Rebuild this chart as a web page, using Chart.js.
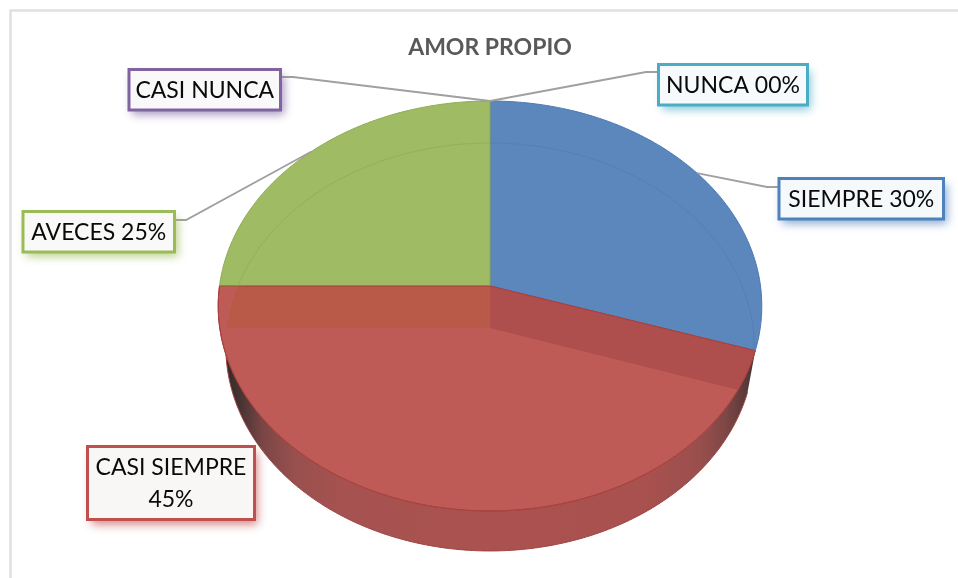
<!DOCTYPE html>
<html>
<head>
<meta charset="utf-8">
<style>
html,body{margin:0;padding:0;background:#fff;}
canvas{display:block;}
</style>
<script src="https://cdn.jsdelivr.net/npm/chart.js@4"></script>
</head>
<body>
<canvas id="c" width="958" height="578"></canvas>
<script>
const chartTitle = "AMOR PROPIO";
const categories = ["SIEMPRE", "CASI SIEMPRE", "AVECES", "CASI NUNCA", "NUNCA"];
const values = [30, 45, 25, 0, 0];
const calloutLines = [["SIEMPRE 30%"], ["CASI SIEMPRE", "45%"], ["AVECES 25%"], ["CASI NUNCA"], ["NUNCA 00%"]];
const sliceColors = ["#5B87BD", "#BF5B57", "#9FBB63", "#8064A2", "#4BACC6"];
const edgeColors = ["#4A79B3", "#A8403D", "#8FAB52", "#8064A2", "#4BACC6"];
const innerColors = ["#5180B9", "#BF5B57", "#93B15A", "#8064A2", "#4BACC6"];
const throughColors = ["#AE4F4E", null, "#B85A47", null, null];
const calloutBorders = ["#4F81BD", "#C0504D", "#9BBB59", "#8064A2", "#4BACC6"];
const calloutFills = ["#F6F9FC", "#F9F7F6", "#F9FAF7", "#F9F9FA", "#F6FAFC"];

// layout of the callouts: x0, y0, x1, y1 and optional leader elbow / side
const calloutBoxes = [
  {x0:779, y0:178.5, x1:943.5, y1:219, elbow:[767,187], dock:[779,187]},
  {x0:87.5, y0:446.5, x1:254.5, y1:519.5},
  {x0:23, y0:211.5, x1:174.5, y1:252, elbow:[186,220], dock:[174.5,220]},
  {x0:129, y0:69.5, x1:280.5, y1:110, elbow:[293,77], dock:[280.5,77]},
  {x0:658.5, y0:64.5, x1:807.5, y1:105, elbow:[646,72], dock:[658.5,72]}
];

// perspective projection of the unit circle of the pie onto the page
const topFace = {cx:490, cy:286, A:270.5, B:203.05, k:-0.09756};
const lowFace = {cx:490, cy:328, A:263, B:202.2, k:-0.0931};
function proj(f, ang){
  const u = Math.cos(ang), v = Math.sin(ang), d = 1 + f.k * v;
  return [f.cx + f.A * u / d, f.cy + f.B * v / d];
}
function arcPts(f, a0, a1, ctx, first){
  const n = Math.max(2, Math.ceil(Math.abs(a1 - a0) * 60));
  for(let i = 0; i <= n; i++){
    const p = proj(f, a0 + (a1 - a0) * i / n);
    if(i === 0 && first) ctx.moveTo(p[0], p[1]); else ctx.lineTo(p[0], p[1]);
  }
}
function slicePath(ctx, f, a0, a1){
  ctx.beginPath();
  ctx.moveTo(f.cx, f.cy);
  arcPts(f, a0, a1, ctx, false);
  ctx.closePath();
}

const pie3d = {
  id: "pie3d",
  beforeDraw(chart){
    const ctx = chart.ctx;
    ctx.save();
    ctx.strokeStyle = "#E0E0E0";
    ctx.lineWidth = 2.5;
    ctx.beginPath();
    ctx.moveTo(10.5, 578); ctx.lineTo(10.5, 10.5); ctx.lineTo(958, 10.5);
    ctx.stroke();
    ctx.restore();
  },
  beforeDatasetsDraw(chart){
    const ctx = chart.ctx;
    const arcs = chart.getDatasetMeta(0).data;
    ctx.save();

    // side wall of slices that face the viewer
    arcs.forEach((el, i) => {
      if(el.endAngle <= el.startAngle) return;
      if(!(el.startAngle < Math.PI / 2 && el.endAngle > Math.PI / 2)) return;
      const g = ctx.createLinearGradient(226, 0, 752, 0);
      g.addColorStop(0, "#352A2A");
      g.addColorStop(0.03, "#4A3434");
      g.addColorStop(0.07, "#7A4645");
      g.addColorStop(0.13, "#98504E");
      g.addColorStop(0.22, "#A65250");
      g.addColorStop(0.5, "#AB5250");
      g.addColorStop(0.8, "#A8514F");
      g.addColorStop(0.9, "#9A4F4D");
      g.addColorStop(0.95, "#7E4745");
      g.addColorStop(1, "#4E3636");
      ctx.beginPath();
      arcPts(topFace, el.startAngle, el.endAngle, ctx, true);
      arcPts(lowFace, el.endAngle, el.startAngle, ctx, false);
      ctx.closePath();
      ctx.fillStyle = g;
      ctx.fill();
      ctx.beginPath();
      arcPts(lowFace, el.endAngle, el.startAngle, ctx, true);
      ctx.strokeStyle = "#9E4442";
      ctx.lineWidth = 1;
      ctx.stroke();
    });

    // top surface
    arcs.forEach((el, i) => {
      if(el.endAngle <= el.startAngle) return;
      slicePath(ctx, topFace, el.startAngle, el.endAngle);
      ctx.fillStyle = sliceColors[i];
      ctx.fill();
      ctx.strokeStyle = edgeColors[i];
      ctx.lineWidth = 1;
      ctx.stroke();
    });

    // floor of the other slices seen through the front slice
    arcs.forEach((front, j) => {
      if(!(front.startAngle < Math.PI / 2 && front.endAngle > Math.PI / 2)) return;
      ctx.save();
      slicePath(ctx, topFace, front.startAngle, front.endAngle);
      ctx.clip();
      arcs.forEach((el, i) => {
        if(i === j || el.endAngle <= el.startAngle || !throughColors[i]) return;
        slicePath(ctx, lowFace, el.startAngle, el.endAngle);
        ctx.fillStyle = throughColors[i];
        ctx.fill();
      });
      ctx.restore();
      // re-ink the slice's own floor border
      slicePath(ctx, topFace, front.startAngle, front.endAngle);
      ctx.strokeStyle = edgeColors[j];
      ctx.lineWidth = 1;
      ctx.stroke();
    });

    // rim of the floor seen through the back slices
    arcs.forEach((el, i) => {
      if(el.endAngle <= el.startAngle) return;
      if(el.startAngle < Math.PI / 2 && el.endAngle > Math.PI / 2) return;
      ctx.save();
      slicePath(ctx, topFace, el.startAngle, el.endAngle);
      ctx.clip();
      ctx.beginPath();
      arcPts(lowFace, el.startAngle, el.endAngle, ctx, true);
      ctx.strokeStyle = innerColors[i];
      ctx.lineWidth = 1;
      ctx.stroke();
      ctx.restore();
    });

    // leader lines
    arcs.forEach((el, i) => {
      const b = calloutBoxes[i];
      if(!b.elbow) return;
      const p = proj(topFace, (el.startAngle + el.endAngle) / 2);
      ctx.beginPath();
      ctx.moveTo(p[0], p[1]);
      ctx.lineTo(b.elbow[0], b.elbow[1]);
      ctx.lineTo(b.dock[0], b.dock[1]);
      ctx.strokeStyle = "#A0A0A0";
      ctx.lineWidth = 1.8;
      ctx.stroke();
    });

    // callouts
    calloutBoxes.forEach((b, i) => {
      const w = b.x1 - b.x0, h = b.y1 - b.y0;
      ctx.save();
      ctx.shadowColor = calloutBorders[i] + "B0";
      ctx.shadowBlur = 9;
      ctx.shadowOffsetX = 3;
      ctx.shadowOffsetY = 5;
      ctx.fillStyle = calloutFills[i];
      ctx.fillRect(b.x0, b.y0, w, h);
      ctx.restore();
      ctx.strokeStyle = calloutBorders[i];
      ctx.lineWidth = 3;
      ctx.strokeRect(b.x0, b.y0, w, h);
      ctx.fillStyle = "#0A0A0A";
      ctx.font = '23px "Lato", "Noto Sans", sans-serif';
      ctx.textAlign = "center";
      ctx.textBaseline = "middle";
      const lines = calloutLines[i];
      const lh = 32, cy = (b.y0 + b.y1) / 2 + 1;
      lines.forEach((t, k) => {
        ctx.fillText(t, (b.x0 + b.x1) / 2, cy + (k - (lines.length - 1) / 2) * lh);
      });
    });
    ctx.restore();
    return false;
  }
};

new Chart(document.getElementById("c"), {
  type: "pie",
  data: {
    labels: categories,
    datasets: [{ data: values, backgroundColor: sliceColors, borderWidth: 0 }]
  },
  options: {
    responsive: false,
    animation: false,
    layout: { padding: { left: 22, top: 34 } },
    plugins: {
      legend: { display: false },
      tooltip: { enabled: false },
      title: {
        display: true,
        text: chartTitle,
        color: "#595959",
        padding: 0,
        font: { family: '"Lato", "Noto Sans", sans-serif', size: 23, weight: "bold" }
      }
    }
  },
  plugins: [pie3d]
});
</script>
</body>
</html>
